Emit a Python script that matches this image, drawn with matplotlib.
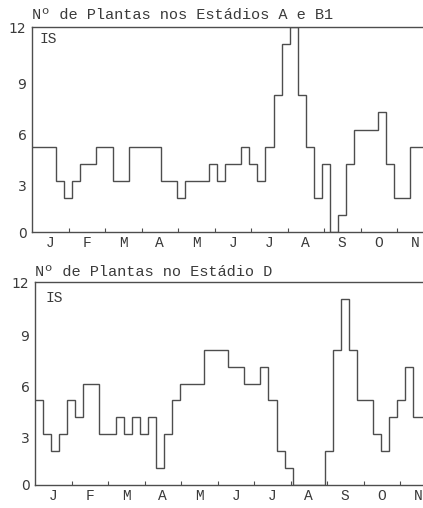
import matplotlib
matplotlib.use('Agg')
import matplotlib.pyplot as plt
import numpy as np
from matplotlib.transforms import ScaledTranslation

# ---- data ----
months = ['J', 'F', 'M', 'A', 'M', 'J', 'J', 'A', 'S', 'O', 'N', 'D']
y_ticks = [0, 3, 6, 9, 12]
title_ab = 'Nº de Plantas nos Estádios A e B1'
title_d = 'Nº de Plantas no Estádio D'
tag = 'IS'

stages_ab = [5, 5, 5, 3, 2, 3, 4, 4, 5, 5, 3, 3, 5, 5, 5, 5, 3, 3, 2, 3, 3, 3,
             4, 3, 4, 4, 5, 4, 3, 5, 8, 11, 12, 8, 5, 2, 4, 0, 1, 4, 6, 6, 6,
             7, 4, 2, 2, 5, 5]
stage_d = [5, 3, 2, 3, 5, 4, 6, 6, 3, 3, 4, 3, 4, 3, 4, 1, 3, 5, 6, 6, 6, 8,
           8, 8, 7, 7, 6, 6, 7, 5, 2, 1, 0, 0, 0, 0, 2, 8, 11, 8, 5, 5, 3, 2,
           4, 5, 7, 4, 4]

# ---- styling ----
STEP = 8.05 / 36.5          # width of one sampling interval, in months
MONTH_PX = 36.5
LINE = '#4d4d4d'
TEXT = '#3a3a3a'
MONO = 'Liberation Mono'

W, H = 423, 508
fig = plt.figure(figsize=(W / 100, H / 100), dpi=100)
fig.patch.set_facecolor('white')

ax1 = fig.add_axes([32 / W, 1 - 232 / H, (W - 32) / W, 205 / H])
ax2 = fig.add_axes([35 / W, 1 - 485 / H, (W - 35) / W, 203 / H])


def draw(ax, vals, title, left_px, nudge_px, title_pad, tag_xy):
    edges = np.arange(len(vals) + 1) * STEP
    ax.stairs(vals, edges, baseline=None, color=LINE, lw=1.0)
    for s in ['left', 'bottom', 'top']:
        ax.spines[s].set_color(LINE)
        ax.spines[s].set_linewidth(1.0)
    ax.spines['right'].set_visible(False)

    ax.set_yticks(y_ticks)
    ax.set_yticklabels([str(v) for v in y_ticks], fontsize=10,
                       family='DejaVu Sans', color=TEXT)
    ax.tick_params(axis='y', length=0, pad=4)
    for lab, v in zip(ax.get_yticklabels(), y_ticks):
        if v in (3, 6, 9):
            lab.set_transform(lab.get_transform() +
                              ScaledTranslation(0, -nudge_px / 100,
                                                fig.dpi_scale_trans))

    ax.set_xticks(np.arange(1, 12))
    ax.set_xticklabels([])
    ax.set_xticks(np.arange(12) + 0.5, minor=True)
    ax.set_xticklabels(months, minor=True, fontsize=10.5, family=MONO,
                       color=TEXT)
    ax.tick_params(axis='x', which='major', direction='in', length=3,
                   width=0.8, color=LINE)
    ax.tick_params(axis='x', which='minor', length=0, pad=3)

    # limits last, so the tick setters cannot widen them
    ax.set_xlim(0, (W - left_px) / MONTH_PX)
    ax.set_ylim(0, 12)

    ax.set_title(title, loc='left', fontsize=11, family=MONO, color=TEXT,
                 pad=title_pad)
    ax.text(tag_xy[0], tag_xy[1], tag, transform=ax.transAxes, ha='left',
            va='center', fontsize=10.5, family=MONO, color=TEXT)


draw(ax1, stages_ab, title_ab, 32, 5, 6, (0.02, 0.94))
draw(ax2, stage_d, title_d, 35, 3, 4.3, (0.026, 0.92))

fig.savefig('out.png', dpi=100, facecolor='white')
